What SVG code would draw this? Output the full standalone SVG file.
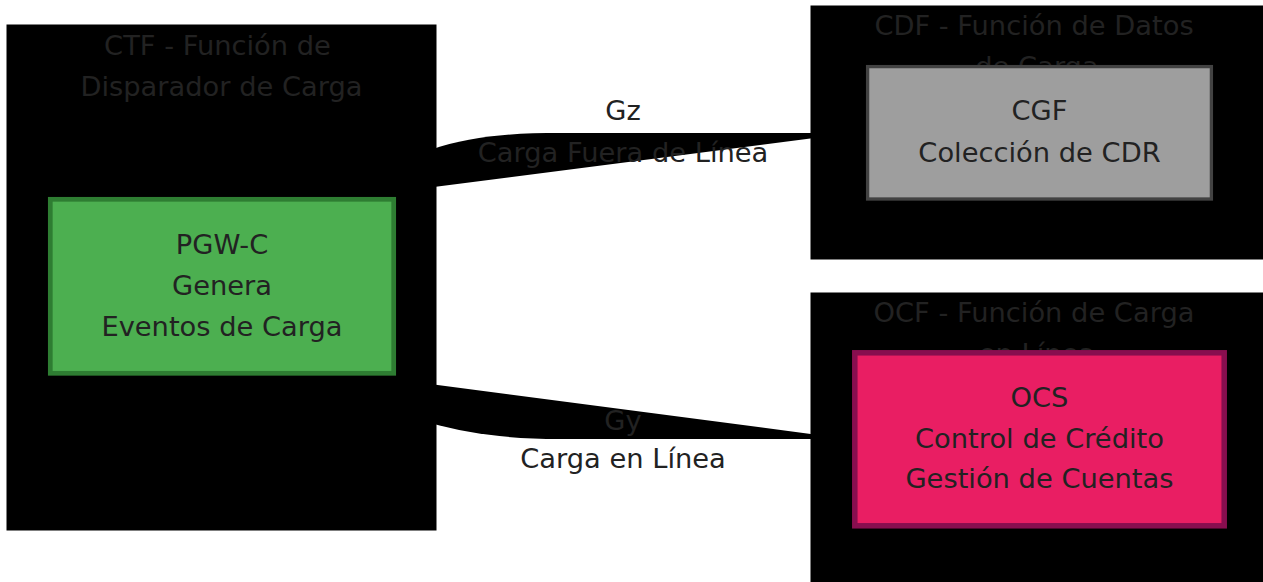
<svg xmlns="http://www.w3.org/2000/svg" width="1263" height="582" viewBox="0 0 1263 582">
<style>
.cl{fill:#000;stroke:#000;stroke-width:1}
.t{font-family:"DejaVu Sans",sans-serif;font-size:27.3px;fill:#222;text-anchor:middle}
.edge{fill:#000;stroke:none}
</style>
<rect width="1263" height="582" fill="#fff"/>
<g id="cluster-CTF">
<rect class="cl" x="7" y="25" width="429" height="505"/>
<text class="t" x="217.5" y="55">CTF - Función de</text>
<text class="t" x="221.5" y="95.5">Disparador de Carga</text>
</g>
<g id="cluster-CDF">
<rect class="cl" x="811" y="6" width="452" height="253"/>
<text class="t" x="1034" y="35">CDF - Función de Datos</text>
<text class="t" x="1037" y="75.5">de Carga</text>
</g>
<g id="cluster-OCF">
<rect class="cl" x="811" y="293" width="452" height="295"/>
<text class="t" x="1034" y="322">OCF - Función de Carga</text>
<text class="t" x="1037" y="362.5">en Línea</text>
</g>
<g id="connectors">
<path class="edge" d="M430,187.6 L430,150 C470,136 510,133 560,133 L820,133 L820,137.3 Z"/>
<path class="edge" d="M430,384 L820,435.2 L820,439 L560,439 C510,439 470,434 430,423 Z"/>
<text class="t" x="623" y="120">Gz</text>
<text class="t" x="623" y="161.5">Carga Fuera de Línea</text>
<text class="t" x="623" y="430">Gy</text>
<text class="t" x="623" y="468">Carga en Línea</text>
</g>
<g id="node-PGWC">
<rect x="50.3" y="199.3" width="343.4" height="174" fill="#4caf50" stroke="#2e7d32" stroke-width="4.7"/>
<text class="t" x="222" y="254">PGW-C</text>
<text class="t" x="222" y="295">Genera</text>
<text class="t" x="222" y="336">Eventos de Carga</text>
</g>
<g id="node-CGF">
<rect x="867.6" y="66.6" width="343.8" height="132.4" fill="#9e9e9e" stroke="#424242" stroke-width="3.3"/>
<text class="t" x="1039.5" y="120">CGF</text>
<text class="t" x="1039.5" y="161.5">Colección de CDR</text>
</g>
<g id="node-OCS">
<rect x="854.8" y="352.8" width="369.4" height="173" fill="#e91e63" stroke="#880e4f" stroke-width="5.5"/>
<text class="t" x="1039.5" y="406.5">OCS</text>
<text class="t" x="1039.5" y="447.5">Control de Crédito</text>
<text class="t" x="1039.5" y="488">Gestión de Cuentas</text>
</g>
</svg>
